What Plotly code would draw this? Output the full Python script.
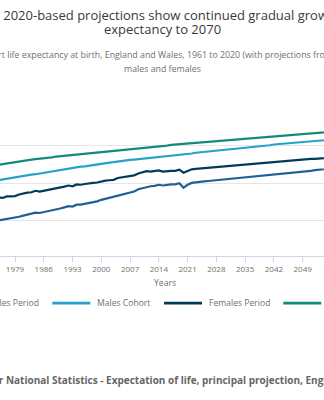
import plotly.graph_objects as go

# Life expectancy at birth (years), England and Wales, 1961-2070
years = list(range(1961, 2071))

males_period = [
    68.5, 68.4, 68.4, 68.9, 69.0, 69.0, 69.4, 69.1, 69.1, 69.4,
    69.6, 69.5, 69.7, 69.9, 70.2, 70.2, 70.6, 70.6, 70.8, 71.1,
    71.4, 71.6, 71.8, 72.2, 72.1, 72.3, 72.7, 72.9, 73.0, 73.3,
    73.6, 73.9, 73.8, 74.3, 74.3, 74.5, 74.8, 75.0, 75.2, 75.6,
    75.9, 76.1, 76.3, 76.8, 77.1, 77.4, 77.6, 77.8, 78.4, 78.7,
    79.1, 79.2, 79.3, 79.6, 79.4, 79.6, 79.7, 79.7, 80.0, 78.8,
    79.6, 80.1, 80.3, 80.4, 80.5, 80.6, 80.7, 80.8, 80.9, 81.0,
    81.1, 81.2, 81.3, 81.4, 81.5, 81.6, 81.7, 81.9, 82.0, 82.1,
    82.2, 82.3, 82.4, 82.5, 82.6, 82.7, 82.9, 83.0, 83.1, 83.2,
    83.3, 83.5, 83.6, 83.7, 83.8, 83.9, 84.0, 84.1, 84.2, 84.3,
    84.4, 84.5, 84.6, 84.7, 84.8, 84.9, 85.0, 85.1, 85.2, 85.3,
]

males_cohort = [
    78.4, 78.6, 78.8, 79.0, 79.2, 79.4, 79.5, 79.7, 79.9, 80.0,
    80.2, 80.4, 80.5, 80.7, 80.9, 81.1, 81.3, 81.5, 81.6, 81.8,
    82.0, 82.1, 82.3, 82.4, 82.6, 82.8, 83.0, 83.2, 83.4, 83.5,
    83.7, 83.9, 84.0, 84.2, 84.4, 84.5, 84.7, 84.8, 85.0, 85.2,
    85.3, 85.5, 85.6, 85.8, 85.9, 86.1, 86.2, 86.3, 86.4, 86.6,
    86.7, 86.8, 86.9, 87.0, 87.1, 87.3, 87.4, 87.5, 87.6, 87.7,
    87.8, 87.9, 88.1, 88.2, 88.3, 88.4, 88.5, 88.7, 88.8, 88.9,
    89.0, 89.1, 89.2, 89.4, 89.5, 89.6, 89.7, 89.8, 89.9, 90.0,
    90.1, 90.3, 90.4, 90.5, 90.6, 90.7, 90.8, 90.9, 91.0, 91.1,
    91.2, 91.2, 91.3, 91.4, 91.5, 91.6, 91.7, 91.8, 91.9, 92.0,
    92.1, 92.2, 92.3, 92.4, 92.5, 92.5, 92.6, 92.7, 92.8, 92.9,
]

females_period = [
    74.1, 74.0, 74.0, 74.6, 74.7, 74.7, 75.2, 74.9, 74.9, 75.3,
    75.5, 75.4, 75.6, 75.9, 76.2, 76.1, 76.5, 76.5, 76.6, 77.0,
    77.3, 77.5, 77.6, 78.0, 77.8, 78.0, 78.4, 78.5, 78.6, 78.9,
    79.1, 79.4, 79.2, 79.7, 79.6, 79.8, 80.0, 80.1, 80.2, 80.5,
    80.7, 80.8, 80.9, 81.4, 81.6, 81.9, 82.0, 82.1, 82.6, 82.8,
    83.2, 83.1, 83.2, 83.4, 83.1, 83.3, 83.3, 83.3, 83.6, 82.8,
    83.3, 83.7, 83.8, 83.9, 84.0, 84.1, 84.2, 84.3, 84.4, 84.5,
    84.6, 84.7, 84.8, 84.8, 84.9, 85.0, 85.1, 85.2, 85.3, 85.4,
    85.5, 85.6, 85.7, 85.8, 85.9, 86.0, 86.1, 86.2, 86.3, 86.4,
    86.5, 86.5, 86.6, 86.7, 86.8, 86.9, 86.9, 87.0, 87.1, 87.2,
    87.3, 87.4, 87.5, 87.5, 87.6, 87.7, 87.8, 87.9, 88.0, 88.0,
]

females_cohort = [
    83.0, 83.1, 83.3, 83.4, 83.5, 83.7, 83.8, 83.9, 84.1, 84.2,
    84.3, 84.5, 84.6, 84.8, 84.9, 85.1, 85.3, 85.5, 85.7, 85.8,
    86.0, 86.1, 86.3, 86.4, 86.5, 86.7, 86.8, 86.9, 87.1, 87.2,
    87.3, 87.5, 87.6, 87.7, 87.8, 87.9, 88.0, 88.1, 88.2, 88.4,
    88.5, 88.6, 88.7, 88.8, 88.9, 89.0, 89.1, 89.2, 89.3, 89.4,
    89.5, 89.6, 89.7, 89.8, 89.9, 90.0, 90.2, 90.3, 90.4, 90.5,
    90.6, 90.7, 90.8, 90.9, 91.0, 91.1, 91.2, 91.3, 91.4, 91.5,
    91.6, 91.7, 91.8, 91.9, 92.0, 92.1, 92.2, 92.3, 92.4, 92.5,
    92.6, 92.7, 92.8, 92.9, 93.0, 93.1, 93.2, 93.2, 93.3, 93.4,
    93.5, 93.5, 93.6, 93.7, 93.8, 93.9, 94.0, 94.0, 94.1, 94.2,
    94.3, 94.3, 94.4, 94.5, 94.6, 94.6, 94.7, 94.8, 94.9, 94.9,
]

series_names = ["Males Period", "Males Cohort", "Females Period", "Females Cohort"]
series_values = [males_period, males_cohort, females_period, females_cohort]
series_colors = ["#206095", "#27a0cc", "#003c57", "#118c7b"]

x_tick_years = list(range(1965, 2071, 7))
y_grid_values = [70, 80, 90, 100]

title_lines = [
    "Figure 1: 2020-based projections show continued gradual growth in life",
    "expectancy to 2070",
]
subtitle_lines = [
    "Period and cohort life expectancy at birth, England and Wales, 1961 to 2020 "
    "(with projections from 2021 to 2070),",
    "males and females",
]
x_title = "Years"
source_text = ("Source: Office for National Statistics - Expectation of life, "
               "principal projection, England and Wales")

FONT = "Open Sans"
W, H = 324, 400
M_TOP, M_BOT = 107.5, 144
PLOT_H = H - M_TOP - M_BOT


def py(pixel_y):
    """Page pixel row -> paper y coordinate."""
    return (H - M_BOT - pixel_y) / PLOT_H


def px(pixel_x):
    """Page pixel column -> paper x coordinate."""
    return pixel_x / W


fig = go.Figure()
for name, vals, col in zip(series_names, series_values, series_colors):
    fig.add_trace(go.Scatter(
        x=years, y=vals, name=name, mode="lines",
        line=dict(color=col, width=2.2),
        showlegend=False, hoverinfo="skip",
    ))

annotations = []
for text, yy in zip(title_lines, [13.8, 28.6]):
    annotations.append(dict(text=text, x=0.5, y=py(yy), xref="paper", yref="paper",
                            xanchor="center", yanchor="middle", showarrow=False,
                            font=dict(family=FONT, size=13, color="#3a3a3a")))
for text, yy in zip(subtitle_lines, [54.5, 68]):
    annotations.append(dict(text=text, x=0.5, y=py(yy), xref="paper", yref="paper",
                            xanchor="center", yanchor="middle", showarrow=False,
                            font=dict(family=FONT, size=8.8, color="#707070")))
annotations.append(dict(text=x_title, x=px(165), y=py(283.3), xref="paper", yref="paper",
                        xanchor="center", yanchor="middle", showarrow=False,
                        font=dict(family=FONT, size=8.6, color="#707070")))
annotations.append(dict(text="<b>" + source_text + "</b>", x=px(158), y=py(380),
                        xref="paper", yref="paper", xanchor="center", yanchor="middle",
                        showarrow=False,
                        font=dict(family=FONT, size=10, color="#666666")))

# Horizontal legend row: line sample followed by its label
legend_starts = [-58, 52.3, 164, 283.3]
legend_y = py(303.3)
shapes = []
for name, col, x0 in zip(series_names, series_colors, legend_starts):
    shapes.append(dict(type="line", xref="paper", yref="paper",
                       x0=px(x0), x1=px(x0 + 38), y0=legend_y, y1=legend_y,
                       line=dict(color=col, width=2.6)))
    annotations.append(dict(text=name, x=px(x0 + 42.5), y=legend_y,
                            xref="paper", yref="paper", xanchor="left",
                            yanchor="middle", showarrow=False,
                            font=dict(family=FONT, size=8.6, color="#707070")))

fig.update_layout(
    width=W, height=H, autosize=False,
    margin=dict(l=0, r=0, t=M_TOP, b=M_BOT, pad=0),
    paper_bgcolor="white", plot_bgcolor="white",
    font=dict(family=FONT),
    xaxis=dict(range=[1975.35, 2054.2], tickmode="array", tickvals=x_tick_years,
               ticks="outside", ticklen=5, tickwidth=1, tickcolor="#ccd6eb",
               showline=True, linecolor="#ccd6eb", linewidth=1,
               showgrid=False, zeroline=False,
               tickfont=dict(family=FONT, size=8, color="#707070")),
    yaxis=dict(range=[60.667, 100], tickmode="array", tickvals=y_grid_values,
               showgrid=True, gridcolor="#e6e6e6", gridwidth=1,
               showticklabels=False, ticks="", zeroline=False, showline=False),
    annotations=annotations,
    shapes=shapes,
)

fig.write_html("out.html")
